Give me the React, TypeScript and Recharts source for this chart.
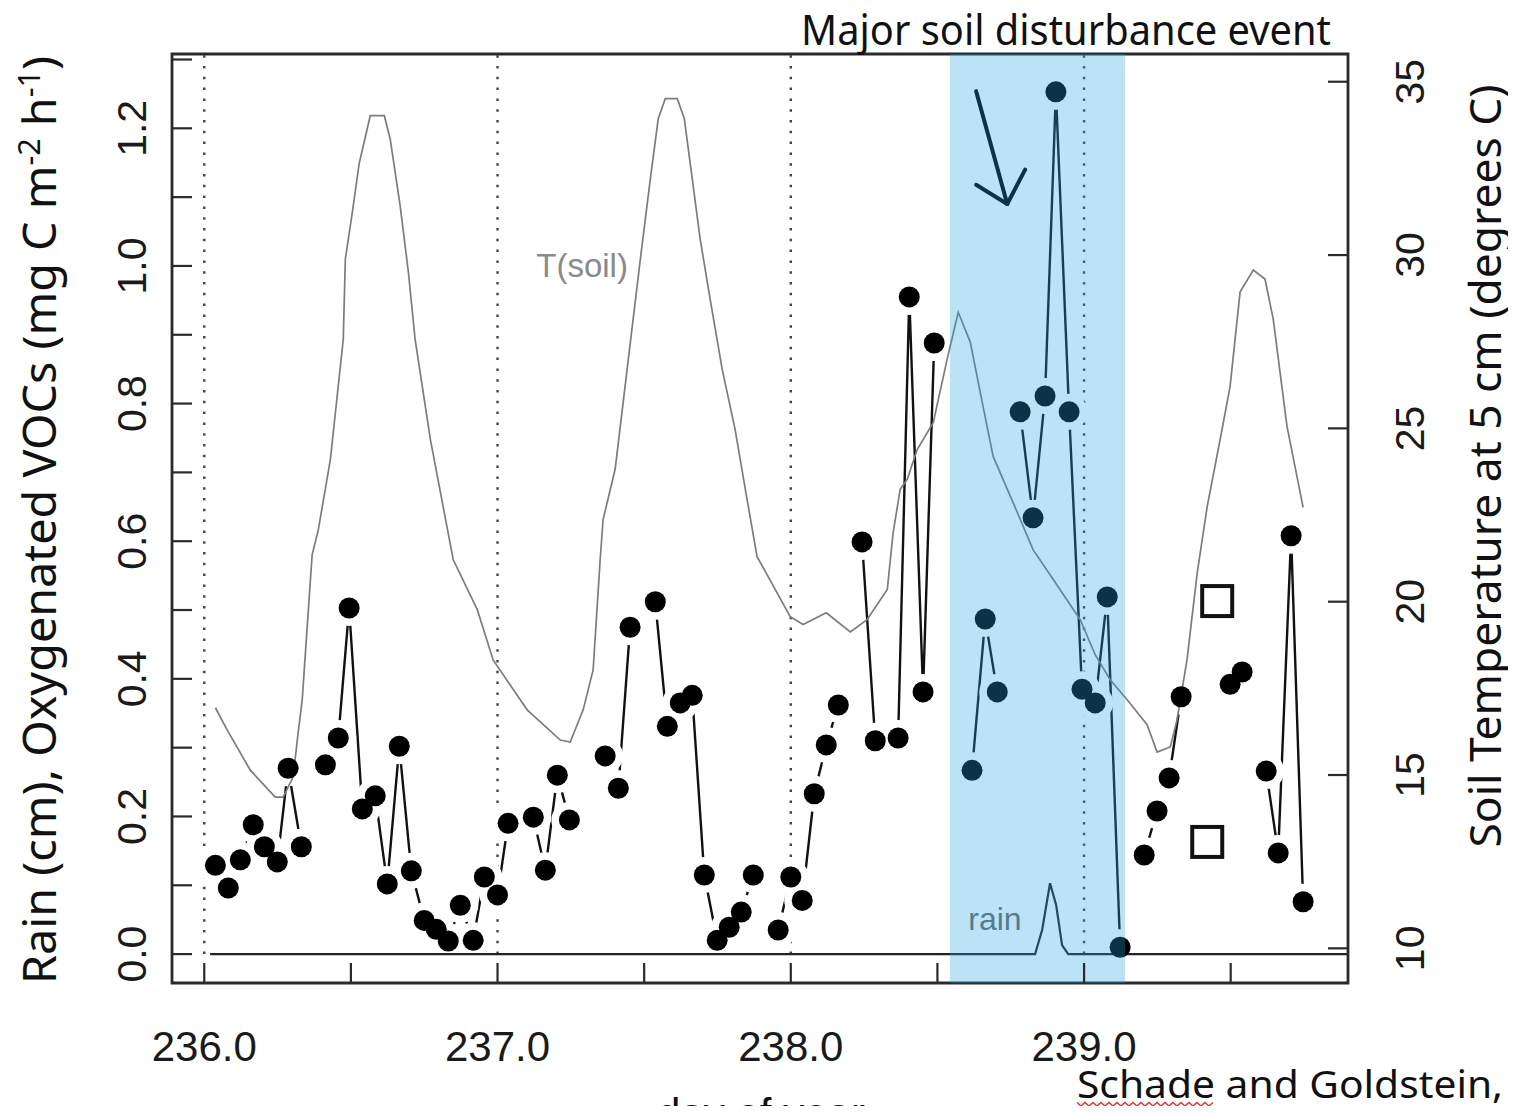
import React from "react";
import {
  ComposedChart,
  Line,
  Scatter,
  XAxis,
  YAxis,
  ReferenceArea,
  ReferenceLine,
  ReferenceDot,
} from "recharts";

// hourly oxygenated VOC flux, day of year (null = missing hour -> line breaks)
const vocDays = [
  236.038, 236.082, 236.123, 236.167, 236.205, 236.249, 236.286, 236.331, 236.372,
  236.413, 236.457, 236.494, 236.539, 236.583, 236.624, 236.665, 236.706, 236.75,
  236.791, 236.832, 236.873, 236.917, 236.955, 237.0, 237.036, 237.08,
  237.122, 237.163, 237.204, 237.245, 237.29, 237.33,
  237.367, 237.412, 237.452, 237.495,
  237.538, 237.579, 237.623, 237.664, 237.705, 237.749, 237.79, 237.831, 237.872, 237.915,
  237.957, 238.0, 238.039, 238.08, 238.121, 238.162, 238.205,
  238.243, 238.288, 238.327,
  238.366, 238.404, 238.451, 238.489, 238.53, 238.575,
  238.618, 238.663, 238.704, 238.745,
  238.782, 238.826, 238.867, 238.904, 238.949, 238.993, 239.038, 239.079, 239.123, 239.165,
  239.205, 239.249, 239.29, 239.331, 239.375, 239.415, 239.455,
  239.498, 239.539, 239.58,
  239.621, 239.662, 239.706, 239.747,
];
const vocFlux = [
  0.129, 0.096, 0.137, 0.188, 0.156, 0.134, 0.27, 0.156, null,
  0.275, 0.314, 0.503, 0.211, 0.23, 0.102, 0.302, 0.121, 0.049,
  0.036, 0.019, 0.071, 0.02, 0.112, 0.086, 0.19, null,
  0.199, 0.122, 0.26, 0.195, null, null,
  0.288, 0.241, 0.475, null,
  0.512, 0.331, 0.365, 0.376, 0.115, 0.02, 0.039, 0.061, 0.115, null,
  0.035, 0.112, 0.078, 0.233, 0.304, 0.362, null,
  0.599, 0.31, null,
  0.314, 0.955, 0.381, 0.888, null, null,
  0.267, 0.487, 0.381, null,
  0.788, 0.634, 0.811, 1.253, 0.788, 0.385, 0.365, 0.519, 0.01, null,
  0.144, 0.208, 0.256, 0.374, null, null, null,
  0.392, 0.41, null,
  0.266, 0.147, 0.608, 0.076,
];

// open squares
const squareDays = [239.42, 239.454];
const squareFlux = [0.163, 0.513];

// soil temperature at 5 cm (deg C)
const tempDays = [
  236.038, 236.078, 236.157, 236.242, 236.269, 236.303, 236.32, 236.334, 236.351, 236.368,
  236.389, 236.43, 236.474, 236.481, 236.505, 236.528, 236.566, 236.614, 236.634, 236.668,
  236.696, 236.719, 236.771, 236.849, 236.931, 236.985, 237.101, 237.214, 237.248, 237.292,
  237.326, 237.35, 237.36, 237.401, 237.446, 237.487, 237.521, 237.548, 237.572, 237.613,
  237.637, 237.664, 237.691, 237.725, 237.766, 237.81, 237.845, 237.885, 237.998, 238.042,
  238.121, 238.203, 238.26, 238.329, 238.349, 238.373, 238.397, 238.431, 238.486, 238.533,
  238.571, 238.612, 238.646, 238.69, 238.758, 238.826, 238.895, 238.987, 239.038, 239.089,
  239.147, 239.215, 239.249, 239.294, 239.317, 239.351, 239.386, 239.42, 239.464, 239.498,
  239.532, 239.577, 239.617, 239.645, 239.692, 239.747,
];
const tempSoil = [
  16.94, 16.3, 15.14, 14.36, 14.36, 14.94, 16.21, 17.17, 19.28, 21.36,
  22.08, 24.1, 27.57, 29.88, 31.24, 32.63, 34.02, 34.02, 33.35, 31.42,
  29.51, 27.57, 24.68, 21.21, 19.77, 18.32, 16.88, 16.01, 15.95, 16.88,
  18.03, 21.21, 22.37, 23.82, 26.99, 29.88, 32.2, 33.93, 34.51, 34.51,
  33.93, 32.2, 30.46, 28.73, 26.71, 24.97, 23.24, 21.3, 19.57, 19.34,
  19.68, 19.13, 19.48, 20.35, 21.99, 23.24, 23.53, 24.39, 25.17, 26.99,
  28.35, 27.49, 26.04, 24.19, 22.86, 21.5, 20.64, 19.48, 18.47, 17.75,
  17.17, 16.45, 15.66, 15.81, 16.59, 18.32, 20.84, 22.75, 24.68, 26.21,
  28.93, 29.57, 29.31, 28.15, 25.06, 22.72,
];

// rain (cm)
const rainDays = [236.02, 238.833, 238.857, 238.884, 238.905, 238.925, 238.946, 239.92];
const rainCm = [0, 0, 0.035, 0.103, 0.071, 0.013, 0, 0];

const dayTicks = [236, 236.5, 237, 237.5, 238, 238.5, 239, 239.5];
const vocTicks = [0, 0.1, 0.2, 0.3, 0.4, 0.5, 0.6, 0.7, 0.8, 0.9, 1.0, 1.1, 1.2, 1.3];
const tempTicks = [10, 15, 20, 25, 30, 35];
const midnightDays = [236, 237, 238, 239];
const eventStart = 238.543;
const eventEnd = 239.14;

const X_MIN = 235.89;
const X_MAX = 239.9;
const V_MIN = -0.042;
const V_MAX = 1.308;
const T_MIN = 9.0;
const T_MAX = 35.8;

const W = 1516;
const H = 1114;
const PLOT_LEFT = 172;
const PLOT_RIGHT = 1348;
const PLOT_TOP = 54;
const PLOT_BOTTOM = 983;
const AXIS_SIZE = 30;
const FRAME = "#2a2a2a";
const TICK_FONT = "'Liberation Sans', Arial, sans-serif";
const TITLE_FONT = "'Noto Sans', 'DejaVu Sans', sans-serif";

const vocData = vocDays.map((day, i) => ({ day, voc: vocFlux[i] }));
const dotData = vocData.filter((p) => p.voc !== null);
const squareData = squareDays.map((day, i) => ({ day, voc: squareFlux[i] }));
const tempData = tempDays.map((day, i) => ({ day, temp: tempSoil[i] }));
const rainData = rainDays.map((day, i) => ({ day, rain: rainCm[i] }));

function DayTick(props: any) {
  const { x, payload } = props;
  const v = payload.value as number;
  const major = Math.abs(v - Math.round(v)) < 1e-6;
  return (
    <g>
      <line x1={x} x2={x} y1={PLOT_BOTTOM} y2={PLOT_BOTTOM - 20} stroke={FRAME} strokeWidth={2.2} />
      {major && (
        <text x={x} y={1061} textAnchor="middle" fontSize={42} fontFamily={TICK_FONT} fill="#1a1a1a">
          {v.toFixed(1)}
        </text>
      )}
    </g>
  );
}

function VocTick(props: any) {
  const { y, payload } = props;
  const v = payload.value as number;
  const labelled = Math.round(v * 10) % 2 === 0;
  const tx = 146;
  return (
    <g>
      <line x1={PLOT_LEFT} x2={PLOT_LEFT + 20} y1={y} y2={y} stroke={FRAME} strokeWidth={2.2} />
      {labelled && (
        <text
          x={tx}
          y={y}
          transform={`rotate(-90 ${tx} ${y})`}
          textAnchor="middle"
          fontSize={41}
          fontFamily={TICK_FONT}
          fill="#1a1a1a"
        >
          {v.toFixed(1)}
        </text>
      )}
    </g>
  );
}

function TempTick(props: any) {
  const { y, payload } = props;
  const tx = 1424;
  return (
    <g>
      <line x1={PLOT_RIGHT - 20} x2={PLOT_RIGHT} y1={y} y2={y} stroke={FRAME} strokeWidth={2.2} />
      <text
        x={tx}
        y={y}
        transform={`rotate(-90 ${tx} ${y})`}
        textAnchor="middle"
        fontSize={41}
        fontFamily={TICK_FONT}
        fill="#1a1a1a"
      >
        {payload.value}
      </text>
    </g>
  );
}

const squiggle = Array.from({ length: 35 }, (_, i) =>
  `${i === 0 ? "M" : "L"}${1077 + i * 4},${i % 2 ? 1106 : 1102.5}`
).join(" ");

export default function App() {
  return (
    <div style={{ margin: -8, width: W, height: H, position: "relative", overflow: "hidden", background: "#fff" }}>
      <ComposedChart
        width={W}
        height={H}
        margin={{
          top: PLOT_TOP,
          right: W - PLOT_RIGHT - AXIS_SIZE,
          bottom: H - PLOT_BOTTOM - AXIS_SIZE,
          left: PLOT_LEFT - AXIS_SIZE,
        }}
      >
        <XAxis
          type="number"
          dataKey="day"
          domain={[X_MIN, X_MAX]}
          ticks={dayTicks}
          interval={0}
          allowDataOverflow
          tick={(p: any) => <DayTick {...p} />}
          tickLine={false}
          axisLine={false}
          height={AXIS_SIZE}
        />
        <YAxis
          yAxisId="left"
          type="number"
          domain={[V_MIN, V_MAX]}
          ticks={vocTicks}
          interval={0}
          allowDataOverflow
          tick={(p: any) => <VocTick {...p} />}
          tickLine={false}
          axisLine={false}
          width={AXIS_SIZE}
        />
        <YAxis
          yAxisId="right"
          orientation="right"
          type="number"
          domain={[T_MIN, T_MAX]}
          ticks={tempTicks}
          interval={0}
          allowDataOverflow
          tick={(p: any) => <TempTick {...p} />}
          tickLine={false}
          axisLine={false}
          width={AXIS_SIZE}
        />

        {midnightDays.map((d) => (
          <ReferenceLine
            key={`mid-${d}`}
            yAxisId="left"
            segment={[{ x: d, y: 0 }, { x: d, y: V_MAX }]}
            stroke="#444"
            strokeWidth={2.4}
            strokeDasharray="2.5 8.3"
            zIndex={50}
          />
        ))}

        <ReferenceDot
          yAxisId="left"
          x={237.132}
          y={0.984}
          zIndex={60}
          shape={(p: any) => (
            <text x={p.cx} y={p.cy} fontSize={33} fontFamily={TICK_FONT} fill="#8a8a8a">
              T(soil)
            </text>
          )}
        />
        <ReferenceDot
          yAxisId="left"
          x={238.605}
          y={0.035}
          zIndex={60}
          shape={(p: any) => (
            <text x={p.cx} y={p.cy} fontSize={32} fontFamily={TICK_FONT} fill="#6a6a6a">
              rain
            </text>
          )}
        />

        <Line
          yAxisId="left"
          data={vocData}
          dataKey="voc"
          type="linear"
          stroke="#111"
          strokeWidth={2.4}
          dot={false}
          activeDot={false}
          connectNulls={false}
          isAnimationActive={false}
          zIndex={400}
        />
        <Scatter
          yAxisId="left"
          data={dotData}
          dataKey="voc"
          isAnimationActive={false}
          zIndex={450}
          shape={(p: any) => <circle cx={p.cx} cy={p.cy} r={18} fill="#fff" />}
        />
        <Line
          yAxisId="right"
          data={tempData}
          dataKey="temp"
          type="linear"
          stroke="#7c7c7c"
          strokeWidth={1.7}
          dot={false}
          activeDot={false}
          isAnimationActive={false}
          zIndex={500}
        />
        <Line
          yAxisId="left"
          data={rainData}
          dataKey="rain"
          type="linear"
          stroke="#222"
          strokeWidth={2.2}
          dot={false}
          activeDot={false}
          isAnimationActive={false}
          zIndex={510}
        />
        <Scatter
          yAxisId="left"
          data={dotData}
          dataKey="voc"
          isAnimationActive={false}
          zIndex={600}
          shape={(p: any) => <circle cx={p.cx} cy={p.cy} r={10.5} fill="#000" />}
        />
        <Scatter
          yAxisId="left"
          data={squareData}
          dataKey="voc"
          isAnimationActive={false}
          zIndex={610}
          shape={(p: any) => (
            <rect x={p.cx - 15} y={p.cy - 15} width={30} height={30} fill="none" stroke="#111" strokeWidth={4} />
          )}
        />

        <ReferenceArea
          yAxisId="left"
          x1={X_MIN}
          x2={X_MAX}
          y1={V_MIN}
          y2={V_MAX}
          fill="none"
          stroke={FRAME}
          strokeWidth={2.8}
          ifOverflow="visible"
          zIndex={700}
        />

        {/* arrow pointing at the event */}
        <ReferenceLine
          yAxisId="left"
          segment={[{ x: 238.632, y: 1.254 }, { x: 238.738, y: 1.09 }]}
          stroke="#000"
          strokeWidth={4}
          strokeLinecap="round"
          ifOverflow="visible"
          zIndex={800}
        />
        <ReferenceLine
          yAxisId="left"
          segment={[{ x: 238.632, y: 1.118 }, { x: 238.738, y: 1.09 }]}
          stroke="#000"
          strokeWidth={4}
          strokeLinecap="round"
          ifOverflow="visible"
          zIndex={800}
        />
        <ReferenceLine
          yAxisId="left"
          segment={[{ x: 238.799, y: 1.14 }, { x: 238.738, y: 1.09 }]}
          stroke="#000"
          strokeWidth={4}
          strokeLinecap="round"
          ifOverflow="visible"
          zIndex={800}
        />

        <ReferenceArea
          yAxisId="left"
          x1={eventStart}
          x2={eventEnd}
          y1={V_MIN}
          y2={V_MAX}
          fill="#23A4DE"
          fillOpacity={0.31}
          stroke="none"
          ifOverflow="visible"
          zIndex={1500}
        />
      </ComposedChart>

      <svg
        width={W}
        height={H}
        style={{ position: "absolute", left: 0, top: 0, pointerEvents: "none" }}
      >
        <text
          x={56}
          y={520}
          transform="rotate(-90 56 520)"
          textAnchor="middle"
          fontSize={46}
          fontFamily={TITLE_FONT}
          fill="#111"
          textLength={928}
          lengthAdjust="spacingAndGlyphs"
        >
          Rain (cm), Oxygenated VOCs (mg C m
          <tspan dy={-16} fontSize={30}>-2</tspan>
          <tspan dy={16}> h</tspan>
          <tspan dy={-16} fontSize={30}>-1</tspan>
          <tspan dy={16}>)</tspan>
        </text>
        <text
          x={1501}
          y={466}
          transform="rotate(-90 1501 466)"
          textAnchor="middle"
          fontSize={44}
          fontFamily={TITLE_FONT}
          fill="#111"
          textLength={763}
          lengthAdjust="spacingAndGlyphs"
        >
          Soil Temperature at 5 cm (degrees C)
        </text>
        <text
          x={801}
          y={45}
          fontSize={42}
          fontFamily={TITLE_FONT}
          fill="#111"
          textLength={530}
          lengthAdjust="spacingAndGlyphs"
        >
          Major soil disturbance event
        </text>
        <text
          x={1077}
          y={1098}
          fontSize={39}
          fontFamily={TITLE_FONT}
          fill="#111"
          textLength={426}
          lengthAdjust="spacingAndGlyphs"
        >
          Schade and Goldstein,
        </text>
        <path d={squiggle} fill="none" stroke="#e0302a" strokeWidth={1.4} />
        <text x={761} y={1128} textAnchor="middle" fontSize={42} fontFamily={TICK_FONT} fill="#111">
          day of year
        </text>
      </svg>
    </div>
  );
}
